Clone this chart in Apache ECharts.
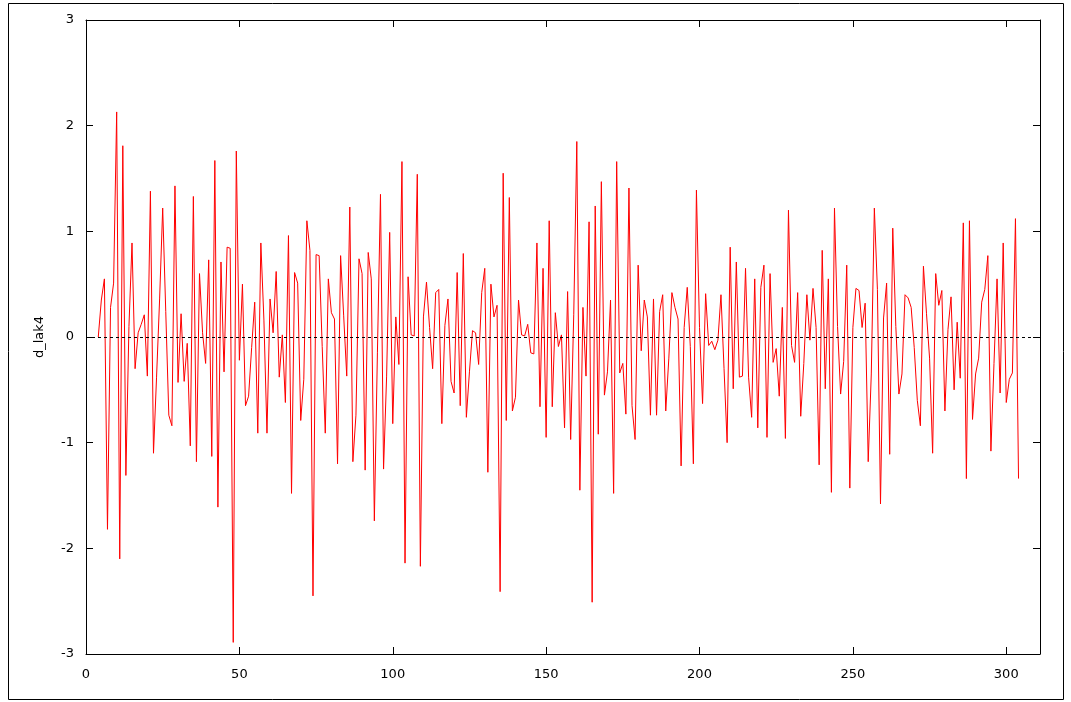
<!DOCTYPE html>
<html lang="en">
<head>
<meta charset="UTF-8">
<title>d_lak4</title>
<script src="https://cdn.jsdelivr.net/npm/echarts@6/dist/echarts.min.js"></script>
<style>
  html, body { margin: 0; padding: 0; background: #fff; }
  #chart { width: 1071px; height: 702px; }
</style>
</head>
<body>
<div id="chart"></div>
<script>
// first observation index of the series
var firstObs = 4;
var d_lak4 = [
  0, 0.35, 0.55, -1.82, 0.28, 0.51, 2.13, -2.10, 1.81, -1.31, 0.1, 0.89, -0.30, 0.04, 0.12, 0.21, -0.37, 1.38, -1.10, -0.38, 0.36, 1.22, 0.24, -0.74,
  -0.84, 1.43, -0.43, 0.22, -0.42, -0.06, -1.03, 1.33, -1.18, 0.60, 0.04, -0.25, 0.73, -1.13, 1.67, -1.61, 0.71, -0.33, 0.85, 0.84, -2.89, 1.76, -0.22, 0.5, -0.65,
  -0.56, -0.1, 0.33, -0.91, 0.89, 0.16, -0.91, 0.36, 0.04, 0.62, -0.38, 0.02, -0.62, 0.96, -1.48, 0.61, 0.51, -0.79, -0.40, 1.10, 0.82, -2.45, 0.78, 0.77, -0.09, -0.91,
  0.55, 0.23, 0.17, -1.20, 0.77, 0.2, -0.37, 1.23, -1.18, -0.74, 0.74, 0.60, -1.26, 0.80, 0.55, -1.74, -0.15, 1.35, -1.25, -0.37, 0.99, -0.82, 0.19, -0.26, 1.66,
  -2.14, 0.57, 0.02, 0.01, 1.54, -2.17, 0.19, 0.52, 0.09, -0.30, 0.42, 0.45, -0.82, 0.11, 0.36, -0.42, -0.53, 0.61, -0.65, 0.79, -0.76, -0.33, 0.06, 0.04, -0.26, 0.42,
  0.65, -1.28, 0.50, 0.19, 0.30, -2.41, 1.55, -0.79, 1.32, -0.70, -0.57, 0.35, 0.02, 0.01, 0.12, -0.15, -0.16, 0.89, -0.66, 0.65, -0.95, 1.10, -0.66, 0.23, -0.09,
  0.02, -0.86, 0.43, -0.97, 0.21, 1.85, -1.45, 0.28, -0.37, 1.09, -2.51, 1.24, -0.92, 1.47, -0.55, -0.33, 0.35, -1.48, 1.66, -0.34, -0.25, -0.73, 1.41, -0.65, -0.97, 0.68,
  -0.13, 0.35, 0.19, -0.74, 0.36, -0.74, 0.24, 0.40, -0.70, -0.2, 0.42, 0.28, 0.17, -1.22, 0.09, 0.47, -0.09, -1.20, 1.39, 0.09, -0.63, 0.41, -0.08, -0.04, -0.12,
  -0.03, 0.40, -0.3, -1.00, 0.85, -0.49, 0.71, -0.38, -0.37, 0.65, -0.38, -0.76, 0.55, -0.86, 0.47, 0.68, -0.95, 0.60, -0.24, -0.11, -0.56, 0.28, -0.96, 1.20, -0.08, -0.24,
  0.42, -0.75, -0.25, 0.40, -0.03, 0.46, 0.09, -1.21, 0.82, -0.49, 0.55, -1.47, 1.22, 0.1, -0.54, -0.23, 0.68, -1.43, 0.09, 0.46, 0.44, 0.09, 0.32, -1.18, -0.35,
  1.22, 0.45, -1.58, 0.18, 0.51, -1.11, 1.03, 0.1, -0.54, -0.35, 0.40, 0.37, 0.28, -0.1, -0.6, -0.84, 0.67, 0.22, -0.2, -1.10, 0.60, 0.30, 0.44, -0.70, 0.07, 0.38,
  -0.50, 0.14, -0.39, 1.08, -1.34, 1.10, -0.78, -0.35, -0.20, 0.33, 0.45, 0.77, -1.08, -0.25, 0.55, -0.53, 0.89, -0.62, -0.40, -0.34, 1.12, -1.34
];
var xTicks = [0, 50, 100, 150, 200, 250, 300];
var yTicks = [-3, -2, -1, 0, 1, 2, 3];
var seriesName = 'd_lak4';

var points = d_lak4.map(function (v, i) { return [firstObs + i, v]; });

var font = 'DejaVu Sans, sans-serif';
var black = '#000';

function baseX(pos, labels) {
  return {
    type: 'value', position: pos, min: 0, max: 311, interval: 50,
    axisLine: { show: true, onZero: false, lineStyle: { color: black, width: 1 } },
    axisTick: { show: true, inside: true, length: 7, lineStyle: { color: black } },
    axisLabel: {
      show: labels, color: black, fontFamily: font, fontSize: 13, margin: 14,
      formatter: function (v) { return xTicks.indexOf(v) >= 0 ? String(v) : ''; }
    },
    splitLine: { show: false }
  };
}
function baseY(pos, labels) {
  return {
    type: 'value', position: pos, min: -3, max: 3, interval: 1,
    name: labels ? seriesName : '', nameLocation: 'middle', nameRotate: 90, nameGap: 40,
    nameTextStyle: { color: black, fontFamily: font, fontSize: 13 },
    axisLine: { show: true, onZero: false, lineStyle: { color: black, width: 1 } },
    axisTick: { show: true, inside: true, length: 7, lineStyle: { color: black } },
    axisLabel: {
      show: labels, color: black, fontFamily: font, fontSize: 13, margin: 12,
      formatter: function (v) { return yTicks.indexOf(v) >= 0 ? String(v) : ''; }
    },
    splitLine: { show: false }
  };
}

var chart = echarts.init(document.getElementById('chart'), null, { renderer: 'canvas' });
chart.setOption({
  animation: false,
  backgroundColor: '#fff',
  grid: { left: 86, top: 20, right: 31, bottom: 48 },
  xAxis: [baseX('bottom', true), baseX('top', false)],
  yAxis: [baseY('left', true), baseY('right', false)],
  graphic: [{
    type: 'rect', shape: { x: 8.5, y: 3.5, width: 1055, height: 696 },
    style: { fill: 'none', stroke: black, lineWidth: 1 }, silent: true
  }],
  series: [{
    name: seriesName, type: 'line', data: points,
    showSymbol: false, symbol: 'none',
    lineStyle: { color: '#ff0000', width: 1 },
    markLine: {
      silent: true, symbol: 'none', label: { show: false },
      lineStyle: { color: black, type: [3, 3], width: 1 },
      data: [{ yAxis: 0 }]
    }
  }]
});
</script>
</body>
</html>
